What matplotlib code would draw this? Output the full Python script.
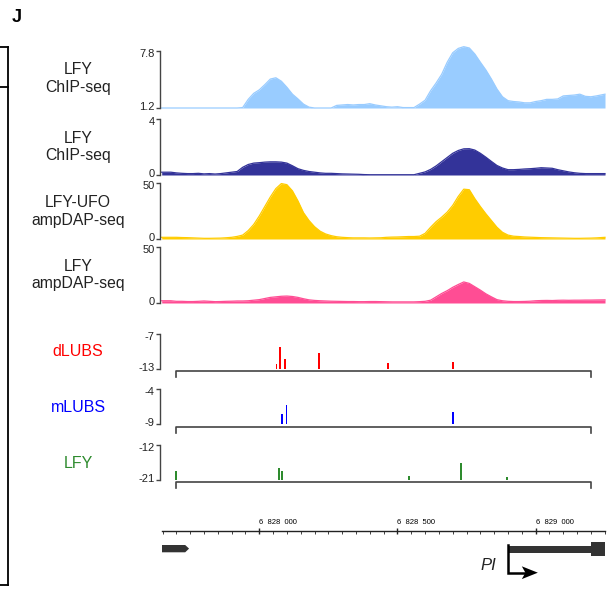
import numpy as np
import matplotlib
matplotlib.use("Agg")
import matplotlib.pyplot as plt
import matplotlib.transforms as mtransforms
from matplotlib.lines import Line2D
from matplotlib.patches import Polygon, Rectangle

plt.rcParams['font.family'] = ['Liberation Sans', 'DejaVu Sans']

W, H = 610, 590

# genomic window shown (bp)
VIEW_START = 6827647
VIEW_END = 6829251
BIN_START = 6827650
BIN_SIZE = 20

# coverage tracks, one value per 20 bp bin
chip_1 = [1.2, 1.2, 1.2, 1.2, 1.2, 1.2, 1.2, 1.2, 1.2, 1.2,
          1.2, 1.2, 1.2, 1.2, 1.25, 2.2, 2.9, 3.3, 3.9, 4.55,
          4.7, 4.3, 3.6, 2.8, 2.25, 1.65, 1.3, 1.2, 1.2, 1.2,
          1.2, 1.5, 1.55, 1.6, 1.55, 1.6, 1.6, 1.7, 1.55, 1.45,
          1.35, 1.3, 1.35, 1.25, 1.25, 1.25, 1.65, 2.1, 3.2, 4.1,
          5.1, 6.5, 7.6, 8.1, 8.3, 8.15, 7.45, 6.5, 5.6, 4.55,
          3.4, 2.5, 2.05, 1.95, 1.9, 1.8, 1.8, 1.95, 2.05, 2.2,
          2.2, 2.25, 2.6, 2.65, 2.7, 2.8, 2.55, 2.5, 2.6, 2.8]
chip_2 = [0.2, 0.2, 0.15, 0.12, 0.1, 0.1, 0.12, 0.08, 0.1, 0.07,
          0.1, 0.15, 0.2, 0.25, 0.55, 0.75, 0.85, 0.88, 0.92, 0.94,
          0.94, 0.92, 0.85, 0.66, 0.45, 0.33, 0.25, 0.2, 0.15, 0.12,
          0.12, 0.1, 0.08, 0.07, 0.06, 0.05, 0.03, 0.02, 0.02, 0.02,
          0.02, 0.02, 0.02, 0.02, 0.02, 0.02, 0.12, 0.22, 0.4, 0.65,
          0.95, 1.25, 1.55, 1.75, 1.87, 1.88, 1.78, 1.55, 1.27, 0.97,
          0.68, 0.5, 0.38, 0.38, 0.4, 0.43, 0.45, 0.48, 0.52, 0.5,
          0.48, 0.38, 0.3, 0.22, 0.16, 0.12, 0.1, 0.1, 0.1, 0.1]
lfy_ufo_dap = [1.5, 1.5, 1.5, 1.3, 1.2, 1.0, 0.8, 0.6, 0.6, 0.7,
               0.8, 1.1, 1.5, 2.3, 3.5, 7.5, 13, 20.5, 29, 37.5,
               45, 49.5, 48.5, 43, 34, 23.5, 16.5, 11, 7, 4.5,
               3, 2, 1.5, 1.2, 1.0, 1.0, 1.0, 0.9, 1.0, 1.1,
               1.5, 1.7, 1.8, 2.0, 2.2, 2.2, 2.5, 5, 10.5, 15.5,
               19.5, 24, 30, 38, 44.5, 44, 36, 29, 22.5, 16.5,
               10.5, 6, 3.5, 2.5, 2.2, 1.8, 1.6, 1.4, 1.2, 1.1,
               1.0, 0.9, 0.8, 0.7, 0.6, 0.6, 0.7, 0.8, 1.0, 1.5]
lfy_dap = [2, 2, 1.5, 1.5, 1.3, 1.3, 1.5, 1.8, 1.5, 1.2,
           1.3, 1.5, 1.6, 1.8, 1.8, 2.0, 2.5, 3.0, 4.0, 5.0,
           5.5, 6.0, 6.2, 5.8, 5.0, 3.8, 2.8, 2.3, 2.0, 1.8,
           1.6, 1.5, 1.4, 1.3, 1.3, 1.2, 1.2, 1.3, 1.3, 1.2,
           1.1, 1.0, 1.0, 1.0, 1.0, 1.0, 1.2, 1.5, 2.5, 5.5,
           8.5, 11, 14, 16.5, 18.8, 17.5, 14.5, 11.5, 8.2, 5.5,
           3.0, 2.0, 1.5, 1.3, 1.3, 1.4, 1.6, 2.0, 2.2, 2.3,
           2.2, 2.4, 2.5, 2.4, 2.5, 2.5, 2.6, 2.6, 2.7, 2.8]

# predicted binding sites (position bp, score)
SITE_START = 6827699
SITE_END = 6829200
dlubs_pos = [6828063, 6828075, 6828093, 6828217, 6828467, 6828702]
dlubs_score = [-12.1, -9.2, -11.3, -10.3, -12.0, -11.8]
mlubs_pos = [6828082, 6828099, 6828702]
mlubs_score = [-7.6, -6.3, -7.3]
lfy_pos = [6827699, 6828071, 6828083, 6828542, 6828729, 6828896]
lfy_score = [-18.6, -18.0, -18.7, -19.9, -16.5, -20.3]

ruler_major = [6828000, 6828500, 6829000]
ruler_labels = ['6  828  000', '6  828  500', '6  829  000']

upstream_gene_end = 6827746
pi_tss = 6828901
pi_thick_start = 6829199
pi_arrow_end = 6829008

fig = plt.figure(figsize=(W / 100, H / 100), dpi=100)


def px_axes(left, top, right, bottom):
    return fig.add_axes([left / W, 1 - bottom / H, (right - left) / W, (bottom - top) / H])


def fx(x):
    return x / W


def fy(y):
    return 1 - y / H


AX_L, AX_R = 161.7, 605
SPINE_C = '#444444'
TXT_C = '#222222'


def style_track(ax, ylim, ticklabels):
    ax.set_xlim(VIEW_START, VIEW_END)
    ax.set_ylim(*ylim)
    for s in ['top', 'right', 'bottom']:
        ax.spines[s].set_visible(False)
    ax.spines['left'].set_position(('outward', 1.2))
    ax.spines['left'].set_color(SPINE_C)
    ax.spines['left'].set_linewidth(1.0)
    ax.set_xticks([])
    ax.set_yticks(list(ylim))
    ax.set_yticklabels(ticklabels)
    ax.tick_params(axis='y', length=3, width=1.0, color=SPINE_C, labelsize=8,
                   labelcolor=TXT_C, pad=1)
    ax.patch.set_visible(False)
    # nudge the min label up and the max label down a hair so stacked tracks don't collide
    lo, hi = ax.get_yticklabels()
    lo.set_transform(lo.get_transform() + mtransforms.ScaledTranslation(0, 1.5 / 72, fig.dpi_scale_trans))
    hi.set_transform(hi.get_transform() + mtransforms.ScaledTranslation(0, -1.5 / 72, fig.dpi_scale_trans))


centers = BIN_START + BIN_SIZE * (np.arange(len(chip_1)) + 0.5)
centers[0], centers[-1] = VIEW_START, VIEW_END

tracks = [
    (chip_1, (1.2, 7.8), ['1.2', '7.8'], (51, 108), '#99CCFF', 'LFY\nChIP-seq', 78.5),
    (chip_2, (0, 4), ['0', '4'], (119, 175), '#333399', 'LFY\nChIP-seq', 147),
    (lfy_ufo_dap, (0, 50), ['0', '50'], (183, 239), '#FFCC00', 'LFY-UFO\nampDAP-seq', 211.5),
    (lfy_dap, (0, 50), ['0', '50'], (247, 303), '#FF4D94', 'LFY\nampDAP-seq', 275),
]

for vals, ylim, tl, (top, bot), col, label, ly in tracks:
    ax = px_axes(AX_L, top, AX_R, bot)
    style_track(ax, ylim, tl)
    ax.fill_between(centers, vals, ylim[0], color=col, linewidth=0, clip_on=False)
    ax.plot(centers, vals, color=col, linewidth=0.9, clip_on=False)
    fig.text(fx(78), fy(ly), label, ha='center', va='center', fontsize=11.3,
             color=TXT_C, linespacing=1.2)

sites = [
    (dlubs_pos, dlubs_score, (-13, -7), ['-13', '-7'], (334, 369), 371, '#FF0000', 'dLUBS', 352),
    (mlubs_pos, mlubs_score, (-9, -4), ['-9', '-4'], (389, 424), 427, '#0000FF', 'mLUBS', 407),
    (lfy_pos, lfy_score, (-21, -12), ['-21', '-12'], (445, 480), 482, '#2E8B2E', 'LFY', 463),
]

for pos, score, ylim, tl, (top, bot), base_px, col, label, ly in sites:
    ax = px_axes(AX_L, top, AX_R, bot)
    style_track(ax, ylim, tl)
    ax.bar(pos, np.array(score) - ylim[0], bottom=ylim[0], width=6, color=col,
           linewidth=0, clip_on=False)
    tr = mtransforms.blended_transform_factory(ax.transData, fig.transFigure)
    ax.plot([SITE_START, SITE_START, SITE_END, SITE_END],
            [fy(base_px + 6), fy(base_px), fy(base_px), fy(base_px + 6)],
            transform=tr, color=SPINE_C, linewidth=1.2, clip_on=False)
    fig.text(fx(78), fy(ly), label, ha='center', va='center', fontsize=11.5, color=col)

# ruler + genes
gax = px_axes(AX_L, 515, AX_R, 590)
gax.set_xlim(VIEW_START, VIEW_END)
gax.set_ylim(590, 515)
gax.patch.set_visible(False)
for s in ['bottom', 'left', 'right']:
    gax.spines[s].set_visible(False)
gax.spines['top'].set_position(('data', 530.7))
gax.spines['top'].set_color('#222222')
gax.spines['top'].set_linewidth(1.0)
gax.xaxis.tick_top()
gax.set_yticks([])
gax.set_xticks(ruler_major)
gax.set_xticklabels(ruler_labels, ha='left')
gax.set_xticks(np.arange(6827650, VIEW_END, 50), minor=True)
gax.tick_params(axis='x', which='major', direction='inout', length=5, width=1.0,
                labelsize=5.5, pad=1, color='#222222')
gax.tick_params(axis='x', which='minor', direction='in', length=2, width=0.6, color='#222222')

gene_c = '#333333'
tip = 14
gax.add_patch(Polygon([[VIEW_START, 545], [upstream_gene_end - tip, 545],
                       [upstream_gene_end, 548.6], [upstream_gene_end - tip, 552.3],
                       [VIEW_START, 552.3]], closed=True, color=gene_c, linewidth=0))
gax.add_patch(Rectangle((pi_tss, 545.5), VIEW_END - pi_tss, 7, color=gene_c, linewidth=0))
gax.add_patch(Rectangle((pi_thick_start, 541.7), VIEW_END - pi_thick_start, 14.3,
                        color=gene_c, linewidth=0))
gax.plot([pi_tss, pi_tss, pi_arrow_end - 45], [545, 572.7, 572.7], color='black',
         linewidth=1.8, solid_joinstyle='miter')
gax.add_patch(Polygon([[pi_arrow_end, 572.7], [pi_arrow_end - 58, 566.3],
                       [pi_arrow_end - 45, 572.7], [pi_arrow_end - 58, 579.1]],
                      closed=True, color='black', linewidth=0))
gax.text(pi_tss - 45, 565, 'PI', ha='right', va='center', fontsize=12, style='italic',
         color=TXT_C)

# edge of the neighbouring panel
lc = 'black'
for xs, ys in [([0, 8], [47, 47]), ([0, 8], [87, 87]), ([8, 8], [47, 585]), ([0, 8], [585, 585])]:
    fig.add_artist(Line2D([fx(v) for v in xs], [fy(v) for v in ys], color=lc, linewidth=1.3))

fig.text(fx(12), fy(18), 'J', ha='left', va='center', fontsize=13, fontweight='bold')

fig.savefig('out.png', dpi=100)
